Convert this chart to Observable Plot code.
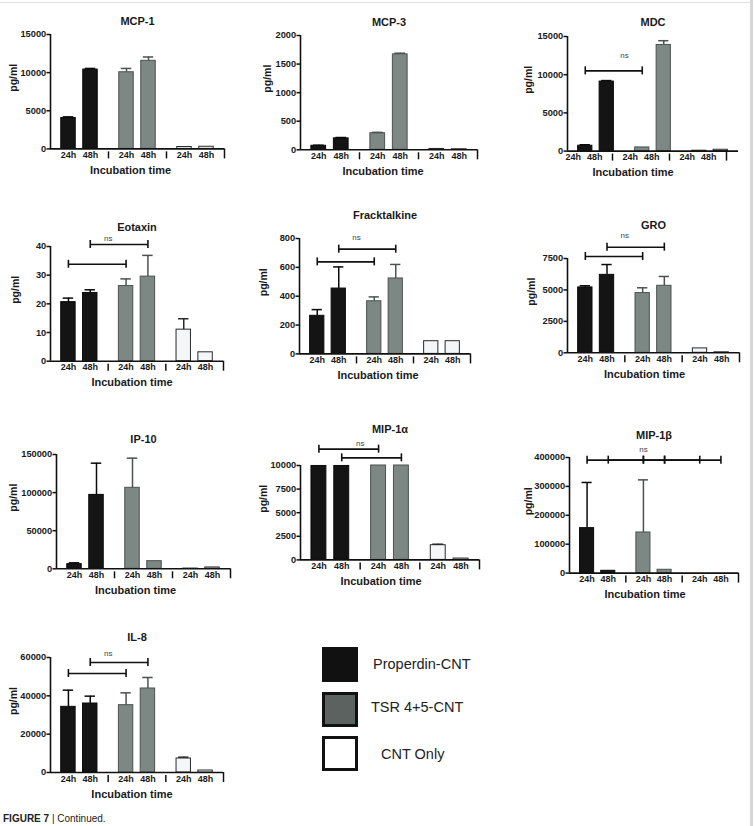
<!DOCTYPE html>
<html><head><meta charset="utf-8">
<script src="https://cdn.jsdelivr.net/npm/d3@7"></script>
<script src="https://cdn.jsdelivr.net/npm/@observablehq/plot@0.6"></script>
<style>
html,body{margin:0;padding:0;background:#fff;}
#root{position:relative;width:754px;height:826px;overflow:hidden;font-family:"Liberation Sans",Arial,Helvetica,sans-serif;color:#1a1a1a;}
#root svg{position:absolute;}
.sw{position:absolute;box-sizing:border-box;}
.lt{position:absolute;font-size:14.5px;line-height:18px;color:#222;white-space:nowrap;}
#cap{position:absolute;left:3px;top:813px;font-size:10px;line-height:12px;color:#222;white-space:nowrap;}
#edgeR{position:absolute;left:750px;top:0;width:3px;height:826px;background:#d6d6d6;}
#edgeT{position:absolute;left:0;top:2px;width:752px;height:1px;background:#e2e2e2;}
</style></head>
<body><div id="root"><div id="edgeT"></div><div id="edgeR"></div></div>
<script>
// ---------- categories ----------
const barKeys = ["P24", "P48", "T24", "T48", "C24", "C48"];
const barSeries = ["Properdin-CNT", "Properdin-CNT", "TSR 4+5-CNT", "TSR 4+5-CNT", "CNT Only", "CNT Only"];
const barTimes = ["24h", "48h", "24h", "48h", "24h", "48h"];
const seriesNames = ["Properdin-CNT", "TSR 4+5-CNT", "CNT Only"];
const seriesFill = ["#141414", "#7d8783", "#f4f6f8"];
const seriesStroke = ["#0a0a0a", "#4c5250", "#2a2a2a"];
const legendFill = ["#111111", "#5b625f", "#ffffff"];
const yLabel = "pg/ml";
const xLabel = "Incubation time";

// ---------- values (mean, upper error) ----------
const mcp1Mean = [4050, 10400, 10050, 11550, 250, 280];
const mcp1Err = [150, 150, 500, 500, 0, 0];
const mcp1Ticks = [0, 5000, 10000, 15000];

const mcp3Mean = [70, 200, 290, 1670, 15, 10];
const mcp3Err = [10, 15, 15, 20, 0, 0];
const mcp3Ticks = [0, 500, 1000, 1500, 2000];

const mdcMean = [700, 9100, 480, 13900, 50, 175];
const mdcErr = [130, 130, 0, 550, 0, 0];
const mdcTicks = [0, 5000, 10000, 15000];
const mdcBrackets = [["P24", "T24", 10500]];
const mdcNs = 12470;

const eotaxinMean = [20.6, 23.8, 26.2, 29.5, 11.0, 3.1];
const eotaxinErr = [1.4, 1.1, 2.5, 7.4, 3.8, 0];
const eotaxinTicks = [0, 10, 20, 30, 40];
const eotaxinBrackets = [["P24", "T24", 33.8], ["P48", "T48", 40.7]];
const eotaxinNs = 42.9;

const fracktalkineMean = [264, 453, 365, 523, 88, 88];
const fracktalkineErr = [43, 150, 30, 97, 0, 0];
const fracktalkineTicks = [0, 200, 400, 600, 800];
const fracktalkineBrackets = [["P24", "T24", 638], ["P48", "T48", 726]];
const fracktalkineNs = 809;

const groMean = [5200, 6200, 4750, 5330, 350, 40];
const groErr = [130, 820, 420, 740, 0, 0];
const groTicks = [0, 2500, 5000, 7500];
const groBrackets = [["P24", "T24", 7660], ["P48", "T48", 8400]];
const groNs = 9300;

const ip10Mean = [6100, 97000, 106300, 10000, 300, 1750];
const ip10Err = [1750, 41600, 38900, 0, 0, 0];
const ip10Ticks = [0, 50000, 100000, 150000];

const mip1aMean = [9950, 9950, 10000, 10000, 1555, 140];
const mip1aErr = [0, 0, 0, 0, 105, 0];
const mip1aTicks = [0, 2500, 5000, 7500, 10000];
const mip1aBrackets = [["P24", "T24", 11730], ["P48", "T48", 10810]];
const mip1aNs = 12360;

const mip1bMean = [155600, 8000, 140600, 11500, 0, 0];
const mip1bErr = [158000, 0, 182000, 0, 0, 0];
const mip1bTicks = [0, 100000, 200000, 300000, 400000];
const mip1bBrackets = [["P24", "T24", 390800], ["T24", "C24", 390800], ["P48", "T48", 390800], ["T48", "C48", 390800]];
const mip1bNs = 426600;

const il8Mean = [34260, 36000, 35130, 43830, 7300, 1040];
const il8Err = [8700, 3830, 6430, 5740, 700, 0];
const il8Ticks = [0, 20000, 40000, 60000];
const il8Brackets = [["P24", "T24", 51650], ["P48", "T48", 57390]];
const il8Ns = 62240;

const panelNames = ["MCP-1", "MCP-3", "MDC", "Eotaxin", "Fracktalkine", "GRO", "IP-10", "MIP-1α", "MIP-1β", "IL-8"];

// ---------- panels (data refs) ----------
const panels = [
  {mean: mcp1Mean, err: mcp1Err, ticks: mcp1Ticks, brackets: [], ns: null},
  {mean: mcp3Mean, err: mcp3Err, ticks: mcp3Ticks, brackets: [], ns: null},
  {mean: mdcMean, err: mdcErr, ticks: mdcTicks, brackets: mdcBrackets, ns: mdcNs, nsAt: "gap"},
  {mean: eotaxinMean, err: eotaxinErr, ticks: eotaxinTicks, brackets: eotaxinBrackets, ns: eotaxinNs, nsAt: "gap"},
  {mean: fracktalkineMean, err: fracktalkineErr, ticks: fracktalkineTicks, brackets: fracktalkineBrackets, ns: fracktalkineNs, nsAt: "gap"},
  {mean: groMean, err: groErr, ticks: groTicks, brackets: groBrackets, ns: groNs, nsAt: "gap"},
  {mean: ip10Mean, err: ip10Err, ticks: ip10Ticks, brackets: [], ns: null},
  {mean: mip1aMean, err: mip1aErr, ticks: mip1aTicks, brackets: mip1aBrackets, ns: mip1aNs, nsAt: "gap"},
  {mean: mip1bMean, err: mip1bErr, ticks: mip1bTicks, brackets: mip1bBrackets, ns: mip1bNs, nsAt: "T24"},
  {mean: il8Mean, err: il8Err, ticks: il8Ticks, brackets: il8Brackets, ns: il8Ns, nsAt: "gap"}
];

// ---------- layout (pixels of each frame on the page) ----------
const layout = [
  {x0: 50, x1: 224, yTop: 34.3, yBot: 148.7, titleY: 17, ylab: 37, xlabDx: -7, shift: 0},
  {x0: 300, x1: 477, yTop: 34.7, yBot: 149, titleY: 17, ylab: 33, xlabDx: -6, shift: 0},
  {x0: 567, x1: 738, yTop: 35.7, yBot: 150.3, titleY: 17, ylab: 39, xlabDx: -20, shift: -12},
  {x0: 50, x1: 223, yTop: 246, yBot: 360.7, titleY: 223, ylab: 35, xlabDx: -5, shift: 0},
  {x0: 299, x1: 470, yTop: 238.3, yBot: 353.7, titleY: 211, ylab: 36, xlabDx: -7, shift: 0},
  {x0: 567, x1: 739, yTop: 257.7, yBot: 352, titleY: 220, ylab: 36, xlabDx: -9, shift: 0},
  {x0: 56, x1: 230, yTop: 454, yBot: 568.3, titleY: 435, ylab: 43, xlabDx: -8, shift: 0},
  {x0: 300, x1: 479, yTop: 465.3, yBot: 559.7, titleY: 425, ylab: 37, xlabDx: -9, shift: 0},
  {x0: 569, x1: 738, yTop: 456.7, yBot: 572.3, titleY: 430, ylab: 41, xlabDx: -9, shift: 0},
  {x0: 50, x1: 223, yTop: 657.3, yBot: 772.3, titleY: 633, ylab: 37, xlabDx: -5, shift: 0}
];

const root = document.getElementById("root");
const AX = "#111";
const FONT = '"Liberation Sans", Arial, Helvetica, sans-serif';

function drawPanel(p, name, L) {
  const ML = 52, MR = 12, MT = 42, MB = 40;
  const iw = L.x1 - L.x0, ih = L.yBot - L.yTop;
  const step = iw / 6;
  const pair = 3.5;
  const dxOf = t => (t === "24h" ? pair : -pair);
  const rows = barKeys.map((k, i) => ({
    key: k, time: barTimes[i], mean: p.mean[i], err: p.err[i],
    si: seriesNames.indexOf(barSeries[i])
  }));
  const marks = [];
  for (const t of ["24h", "48h"]) {
    const r = rows.filter(d => d.time === t);
    const re = r.filter(d => d.err > 0);
    marks.push(Plot.barY(r, {x: "key", y: "mean", fill: d => seriesFill[d.si], stroke: d => seriesStroke[d.si], strokeWidth: 1, dx: dxOf(t)}));
    marks.push(Plot.ruleX(re, {x: "key", y1: "mean", y2: d => d.mean + d.err, stroke: d => seriesStroke[d.si], strokeWidth: 1.5, dx: dxOf(t)}));
    marks.push(Plot.tickY(re, {x: "key", y: d => d.mean + d.err, stroke: d => seriesStroke[d.si], strokeWidth: 1.5, dx: dxOf(t), insetLeft: 2, insetRight: 2}));
    marks.push(Plot.text(r, {x: "key", text: "time", frameAnchor: "bottom", dy: 9, dx: dxOf(t) + L.shift, fontSize: 9, fontWeight: "bold", fill: "#1a1a1a"}));
    const br = p.brackets.filter(b => barTimes[barKeys.indexOf(b[0])] === t).map(b => ({a: b[0], b: b[1], v: b[2]}));
    if (br.length) {
      marks.push(Plot.link(br, {x1: "a", x2: "b", y1: "v", y2: "v", stroke: AX, strokeWidth: 1.6, dx: dxOf(t)}));
      const ends = [];
      for (const d of br) { ends.push({k: d.a, v: d.v}); ends.push({k: d.b, v: d.v}); }
      marks.push(Plot.ruleX(ends, {x: "k", y1: "v", y2: "v", insetTop: -4, insetBottom: -4, stroke: AX, strokeWidth: 1.6, dx: dxOf(t)}));
    }
  }
  // axes
  marks.push(Plot.ruleY([0], {stroke: AX, strokeWidth: 1.6}));
  marks.push(Plot.ruleX(["P24"], {x: d => d, dx: -step / 2, stroke: AX, strokeWidth: 1.6}));
  marks.push(Plot.axisY({ticks: p.ticks, tickSize: 3.5, tickPadding: 0.8, tickFormat: d => String(d), label: null, fontSize: 9.3, fontWeight: "bold", stroke: AX, strokeWidth: 1.5}));
  // group separators
  marks.push(Plot.ruleX(["P48", "T48"], {x: d => d, dx: step / 2 + L.shift, insetTop: ih + 3, insetBottom: -10, stroke: AX, strokeWidth: 1.5}));
  marks.push(Plot.ruleX(["C48"], {x: d => d, dx: step / 2 + L.shift, insetTop: ih, insetBottom: -10, stroke: AX, strokeWidth: 1.5}));
  // ns
  if (p.ns != null) {
    const at = p.nsAt === "gap" ? "P48" : p.nsAt;
    const ndx = p.nsAt === "gap" ? step / 2 : pair;
    marks.push(Plot.text([{k: at, v: p.ns}], {x: "k", y: "v", text: () => "ns", dx: ndx, fontSize: 8, fontWeight: "normal", fill: "#444"}));
  }
  // titles
  marks.push(Plot.text([name], {text: d => d, frameAnchor: "top", dy: L.titleY - L.yTop, fontSize: 11, fontWeight: "bold", fill: "#1a1a1a"}));
  marks.push(Plot.text([yLabel], {text: d => d, frameAnchor: "left", rotate: -90, dx: -L.ylab, fontSize: 10.5, fontWeight: "bold", fill: "#1a1a1a"}));
  marks.push(Plot.text([xLabel], {text: d => d, frameAnchor: "bottom", dy: 25, dx: L.xlabDx, fontSize: 11, fontWeight: "bold", fill: "#1a1a1a"}));

  const svg = Plot.plot({
    width: iw + ML + MR,
    height: ih + MT + MB,
    marginLeft: ML, marginRight: MR, marginTop: MT, marginBottom: MB,
    x: {type: "band", domain: barKeys, paddingInner: 0.5, paddingOuter: 0.25, round: false, axis: null},
    y: {domain: [0, p.ticks[p.ticks.length - 1]], axis: null},
    style: {background: "transparent", overflow: "visible", fontFamily: FONT, fontSize: "9px", color: "#1a1a1a"},
    marks
  });
  svg.style.position = "absolute";
  svg.style.left = (L.x0 - ML) + "px";
  svg.style.top = (L.yTop - MT) + "px";
  svg.style.maxWidth = "none";
  root.appendChild(svg);
}

panels.forEach((p, i) => drawPanel(p, panelNames[i], layout[i]));

// ---------- legend ----------
const legendTop = [647, 692, 736];
const legendTextLeft = [373, 371, 381];
const legendTextY = [664, 707, 754];
seriesNames.forEach((s, i) => {
  const sw = document.createElement("div");
  sw.className = "sw";
  sw.style.left = "322px";
  sw.style.top = legendTop[i] + "px";
  sw.style.width = "36px";
  sw.style.height = "35px";
  sw.style.background = legendFill[i];
  sw.style.border = (i === 0 ? "1px" : "3px") + " solid #111";
  root.appendChild(sw);
  const t = document.createElement("div");
  t.className = "lt";
  t.textContent = s;
  t.style.left = legendTextLeft[i] + "px";
  t.style.top = (legendTextY[i] - 9) + "px";
  root.appendChild(t);
});

const cap = document.createElement("div");
cap.id = "cap";
cap.innerHTML = "<b>FIGURE 7</b> | Continued.";
root.appendChild(cap);
</script>
</body></html>
